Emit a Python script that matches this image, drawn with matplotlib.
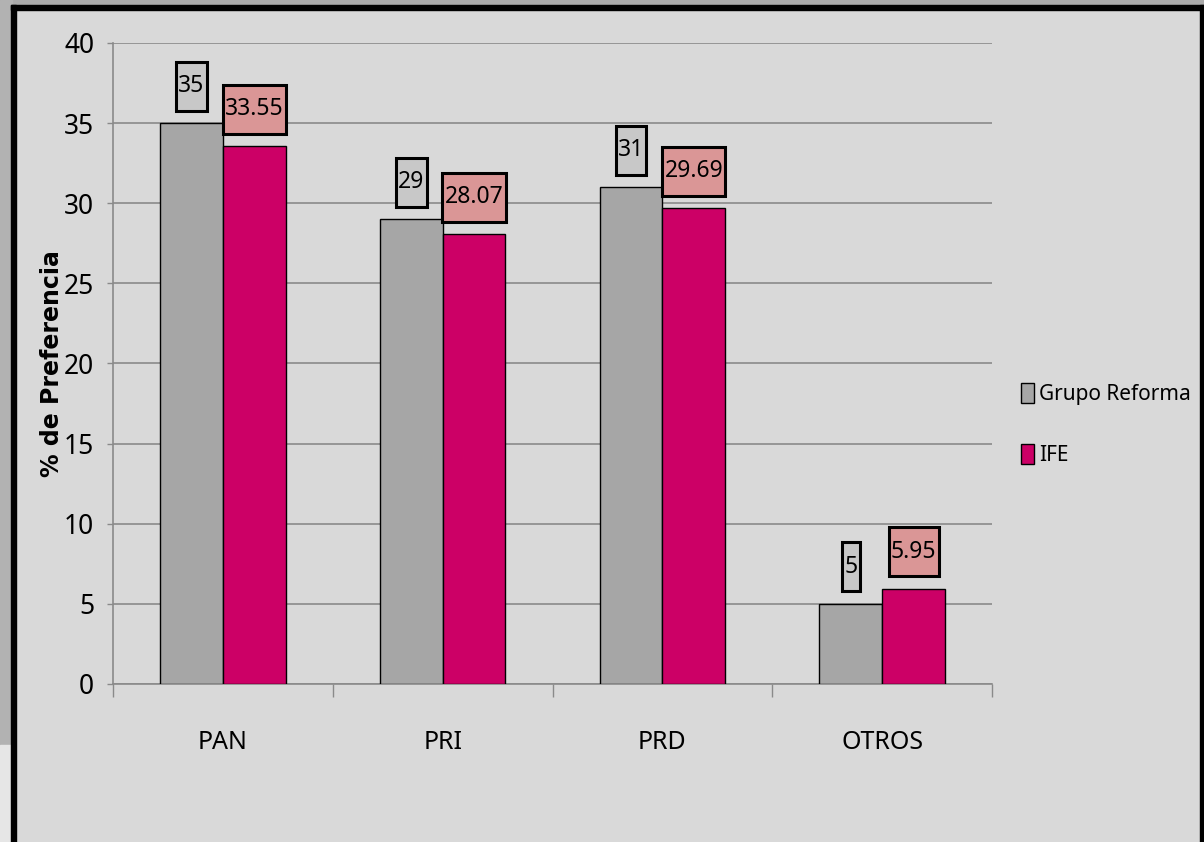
#!/usr/bin/env python3
"""
Comparacion Grupo Reforma vs IFE: % de preferencia por partido.
"""
import matplotlib
matplotlib.use("Agg")
import matplotlib.pyplot as plt
import matplotlib.patches as mpatches
from matplotlib.path import Path
from matplotlib import font_manager

categorias = ["PAN", "PRI", "PRD", "OTROS"]
grupo_reforma = [35, 29, 31, 5]
ife = [33.55, 28.07, 29.69, 5.95]
etiquetas_reforma = ["35", "29", "31", "5"]
etiquetas_ife = ["33.55", "28.07", "29.69", "5.95"]
yticks = [0, 5, 10, 15, 20, 25, 30, 35, 40]

GRIS = "#A6A6A6"
ROSA = "#CC0066"
FONDO = "#D9D9D9"


def __narrow(size):
    return font_manager.FontProperties(family=["Noto Sans", "DejaVu Sans"],
                                       stretch="condensed", size=size)


def __caja(x0, y0, width, height, mutation_size):
    # caja alta: poco margen a los lados, mas arriba y abajo
    px = 0.10 * mutation_size
    py = 0.55 * mutation_size
    x0, y0 = x0 - px, y0 - py
    x1, y1 = x0 + width + 2 * px, y0 + height + 2 * py
    return Path([(x0, y0), (x1, y0), (x1, y1), (x0, y1), (x0, y0)], closed=True)


def __marco(fig):
    t = fig.transFigure
    W, H = 1204.0, 842.0

    def rect(x, y, w, h, color):
        fig.patches.append(mpatches.Rectangle((x / W, 1 - (y + h) / H), w / W, h / H,
                                              transform=t, color=color, zorder=0))
    rect(0, 0, 1204, 6, "#A9A9A9")
    rect(0, 0, 12, 745, "#B2B2B2")
    rect(0, 745, 12, 97, "#E6E6E6")
    rect(11, 5, 1193, 4.5, "black")
    rect(11, 5, 4.5, 837, "black")
    rect(1199.5, 5, 4.5, 837, "black")


def __plot():
    fig = plt.figure(figsize=(12.04, 8.42), dpi=100, facecolor=FONDO)
    __marco(fig)
    ax = fig.add_axes([113 / 1204, 1 - 684 / 842, 879 / 1204, 641 / 842])
    ax.set_facecolor(FONDO)

    x = list(range(len(categorias)))
    w = 0.286
    xr = [i - w / 2 for i in x]
    xi = [i + w / 2 for i in x]
    ax.bar(xr, grupo_reforma, w, color=GRIS, edgecolor="black", linewidth=1,
           label="Grupo Reforma", zorder=3)
    ax.bar(xi, ife, w, color=ROSA, edgecolor="black", linewidth=1,
           label="IFE", zorder=3)

    for xs, vals, labs, fc in ((xr, grupo_reforma, etiquetas_reforma, "#C8C8C8"),
                               (xi, ife, etiquetas_ife, "#DA9696")):
        for xx, v, s in zip(xs, vals, labs):
            ax.annotate(s, (xx, v), xytext=(0, 37), textcoords="offset pixels",
                        ha="center", va="center", fontproperties=__narrow(16.5),
                        bbox=dict(boxstyle=__caja, fc=fc, ec="black", lw=2.2),
                        zorder=5)

    ax.set_xlim(-0.5, 3.5)
    ax.set_ylim(0, 40)
    ax.set_yticks(yticks)
    ax.set_yticklabels([str(v) for v in yticks], fontproperties=__narrow(19))
    ax.yaxis.grid(True, color="#8A8A8A", linewidth=1.2, zorder=1)
    ax.tick_params(axis="y", length=4.5, width=1, color="#8A8A8A", pad=9)

    ax.set_xticks(x)
    ax.set_xticklabels(categorias, fontproperties=__narrow(18))
    ax.set_xticks([-0.5, 0.5, 1.5, 2.5, 3.5], minor=True)
    ax.tick_params(axis="x", which="major", length=0, pad=33)
    ax.tick_params(axis="x", which="minor", length=9, width=1, color="#8A8A8A")

    for side in ("top", "right"):
        ax.spines[side].set_visible(False)
    for side in ("left", "bottom"):
        ax.spines[side].set_color("#8A8A8A")
        ax.spines[side].set_linewidth(1.2)

    ax.set_ylabel("% de Preferencia", fontsize=17, fontweight="bold",
                  family="DejaVu Sans")
    ax.yaxis.set_label_coords(-0.056, 0.5)

    ax.legend(loc="center left", bbox_to_anchor=(1.033, 0.405), frameon=False,
              prop=__narrow(15), handlelength=0.63, handleheight=1.1,
              handletextpad=0.25, labelspacing=1.9, borderpad=0, borderaxespad=0)

    fig.savefig("out.png", dpi=100, facecolor=FONDO)


def main():
    __plot()


if __name__ == '__main__':
    main()
